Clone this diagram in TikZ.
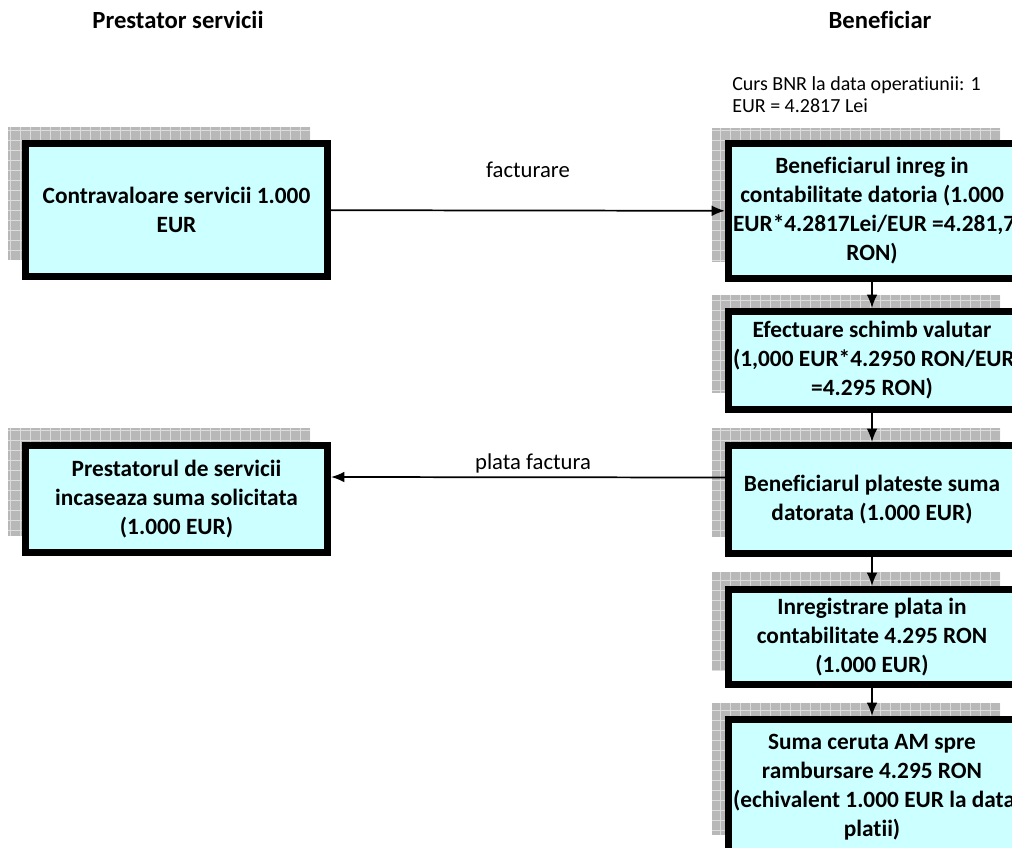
\documentclass[tikz,border=0pt]{standalone}
\usepackage{fontspec}
\setmainfont{Carlito}[Ligatures=NoCommon]
\usetikzlibrary{arrows.meta}

\definecolor{boxfill}{HTML}{CCFFFF}
\definecolor{shadowgray}{HTML}{B8B8B8}
\definecolor{shadowline}{HTML}{DCDCDC}

\tikzset{
  box/.style={draw, line width=5pt, fill=boxfill, inner sep=0pt,
    align=center, font=\bfseries\fontsize{17.5}{21.75}\selectfont},
  leftbox/.style={box, minimum width=226.7pt},
  rightbox/.style={box, minimum width=215.5pt},
  heading/.style={font=\bfseries\fontsize{18.5}{21}\selectfont},
  note/.style={font=\fontsize{15}{16.5}\selectfont},
  label/.style={font=\fontsize{17}{20}\selectfont},
  flow/.style={line width=1.3pt, -{Latex[length=10pt,width=8pt]}}
}

% grey hatched shadow behind a box, corners in pixels
\newcommand{\gridshadow}[4]{%
  \fill[shadowgray] (#1,-#2) rectangle (#3,-#4);
  \begin{scope}
    \clip (#1,-#2) rectangle (#3,-#4);
    \draw[shadowline, line width=0.5pt, step=10] (#1,-#4) grid (#3,-#2);
  \end{scope}}
% line that starts at the inner left edge and runs past the box
\newcommand{\longline}[1]{\makebox[208.5pt][l]{#1}}

\begin{document}
\begin{tikzpicture}[x=0.75pt, y=0.75pt]
  \clip (0,0) rectangle (1012,-848);
  \fill[white] (0,0) rectangle (1012,-848);

  % headings
  \node[heading] (hprest) at (178,-20) {Prestator servicii};
  \node[heading] (hbenef) at (880,-20) {Beneficiar};
  \node[note, anchor=north west, inner sep=0pt, align=left] (curs) at (732,-76)
    {Curs BNR la data operatiunii: 1\\EUR = 4.2817 Lei};

  % shadows
  \gridshadow{8}{127}{310}{260}
  \gridshadow{8}{428}{310}{536}
  \gridshadow{712}{128}{1000}{262}
  \gridshadow{712}{295}{1000}{393}
  \gridshadow{712}{428}{1000}{537}
  \gridshadow{712}{572}{1000}{670}
  \gridshadow{712}{703}{1000}{835}

  % prestator
  \node[leftbox, minimum height=100pt] (serv) at (176.5,-210)
    {Contravaloare servicii 1.000\\EUR};
  \node[leftbox, minimum height=80.5pt] (incas) at (176.5,-499)
    {Prestatorul de servicii\\incaseaza suma solicitata\\(1.000 EUR)};

  % beneficiar
  \node[rightbox, minimum height=101.5pt] (inreg) at (872,-211)
    {Beneficiarul inreg in\\contabilitate datoria (1.000\\\longline{EUR*4.2817Lei/EUR =4.281,7}\\RON)};
  \node[rightbox, minimum height=73.75pt] (schimb) at (872,-360.5)
    {Efectuare schimb valutar\\\longline{(1,000 EUR*4.2950 RON/EUR}\\=4.295 RON)};
  \node[rightbox, minimum height=81.25pt] (plata) at (872,-499.5)
    {Beneficiarul plateste suma\\datorata (1.000 EUR)};
  \node[rightbox, minimum height=71.5pt] (contab) at (872,-637)
    {Inregistrare plata in\\contabilitate 4.295 RON\\(1.000 EUR)};
  \node[rightbox, minimum height=101.5pt] (ramb) at (872,-787)
    {Suma ceruta AM spre\\rambursare 4.295 RON\\\longline{(echivalent 1.000 EUR la data}\\platii)};

  % connectors
  \draw[flow] (serv) -- (inreg);
  \draw[flow] ([yshift=16.5pt]plata.west) -- ([yshift=16.5pt]incas.east);
  \draw[flow] (inreg) -- (schimb);
  \draw[flow] (schimb) -- (plata);
  \draw[flow] (plata) -- (contab);
  \draw[flow] (contab) -- (ramb);

  \node[label] (lfact) at (528,-170) {facturare};
  \node[label] (lplata) at (533,-463) {plata factura};
\end{tikzpicture}
\end{document}
